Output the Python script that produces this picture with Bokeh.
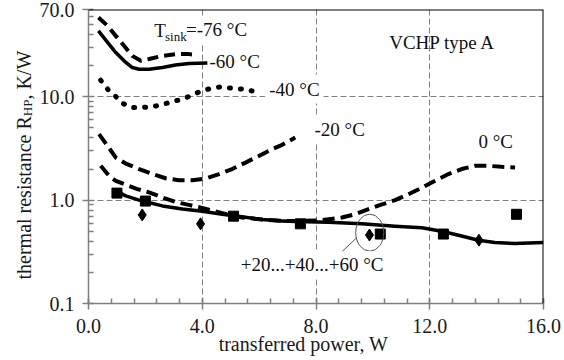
import math
from bokeh.plotting import figure
from bokeh.layouts import row
from bokeh.models import (Range1d, FixedTicker, PrintfTickFormatter, Label, Span)
from bokeh.core.properties import value
from bokeh.embed import file_html
from bokeh.resources import INLINE

# ---------------- data ----------------
x_m76 = [0.35, 0.67, 0.96, 1.25, 1.54, 1.84, 2.13, 2.6, 3.06, 3.53, 3.82]
y_m76 = [58.6, 48.7, 38.9, 31.2, 24.9, 22.3, 23.2, 24.9, 25.9, 25.9, 25.5]

x_m60 = [0.35, 0.67, 0.96, 1.25, 1.54, 1.78, 2.13, 2.6, 3.06, 3.53, 4.18]
y_m60 = [43.5, 33.6, 26.8, 22.3, 19.2, 18.5, 18.5, 19.2, 20.3, 21.0, 21.2]

x_m40 = [0.43, 0.67, 0.94, 1.19, 1.49, 1.87, 2.25, 2.62, 2.95, 3.30, 3.65,
         3.97, 4.32, 4.68, 5.05, 5.40, 5.75]
y_m40 = [14.5, 11.9, 10.2, 8.69, 7.88, 7.88, 8.02, 8.45, 8.99, 9.48, 10.4,
         11.4, 12.1, 12.5, 12.1, 11.9, 11.4]

x_m20 = [0.37, 0.67, 0.96, 1.31, 1.78, 2.25, 2.71, 3.18, 3.65, 4.12, 4.59,
         5.05, 5.52, 5.99, 6.46, 6.81, 7.27]
y_m20 = [4.35, 3.35, 2.58, 2.26, 2.0, 1.79, 1.63, 1.56, 1.56, 1.62, 1.79,
         2.0, 2.31, 2.68, 3.12, 3.43, 4.04]

x_0 = [0.43, 0.72, 0.96, 1.31, 1.72, 2.13, 2.60, 3.06, 3.53, 4.0, 4.47, 4.94,
       5.40, 6.11, 6.8, 7.5, 8.21, 8.91, 9.38, 9.85, 10.32, 10.78, 11.25,
       11.72, 12.19, 12.66, 13.12, 13.59, 14.06, 14.53, 15.0]
y_0 = [2.15, 1.72, 1.54, 1.41, 1.28, 1.19, 1.06, 0.96, 0.90, 0.84, 0.78, 0.72,
       0.68, 0.65, 0.63, 0.63, 0.64, 0.68, 0.73, 0.82, 0.91, 1.0, 1.14,
       1.32, 1.54, 1.79, 2.0, 2.15, 2.15, 2.10, 2.07]

x_pos = [0.96, 1.31, 1.89, 2.6, 3.3, 4.0, 4.7, 5.4, 6.11, 6.81, 7.27, 8.44,
         9.61, 10.78, 11.72, 12.42, 13.12, 13.71, 14.29, 15.0, 16.0]
y_pos = [1.23, 1.10, 0.98, 0.88, 0.82, 0.78, 0.73, 0.69, 0.65, 0.63, 0.62, 0.61,
         0.59, 0.56, 0.54, 0.50, 0.45, 0.41, 0.39, 0.38, 0.39]

x_sq = [1.0, 2.0, 5.1, 7.45, 10.26, 12.48, 15.05]
y_sq = [1.17, 0.98, 0.70, 0.59, 0.47, 0.47, 0.73]

x_di = [1.89, 3.94, 9.88, 13.73]
y_di = [0.72, 0.59, 0.46, 0.41]

x_ticks = [0, 4, 8, 12, 16]
y_ticks = [0.1, 1, 10, 70]

x_title = "transferred power, W"
y_title_parts = ["thermal resistance R", "HP", ", K/W"]

# ---------------- main figure ----------------
FONT = "Liberation Serif"
GRAY = "#7f7f7f"
TOP, BOTTOM = 9, 57

p = figure(width=528, height=360, output_backend="svg", toolbar_location=None,
           y_axis_type="log", x_range=Range1d(0, 16), y_range=Range1d(0.1, 70),
           min_border_left=50, min_border_right=21, min_border_top=TOP,
           min_border_bottom=BOTTOM)
p.outline_line_color = None
p.background_fill_color = "white"
p.border_fill_color = "white"

x_minor = [round(0.8 * i, 2) for i in range(21)]
y_minor = [0.2, 0.3, 0.4, 0.5, 0.6, 0.7, 0.8, 0.9,
           2, 3, 4, 5, 6, 7, 8, 9, 20, 30, 40, 50, 60]
p.xaxis.ticker = FixedTicker(ticks=x_ticks, minor_ticks=x_minor)
p.yaxis.ticker = FixedTicker(ticks=y_ticks, minor_ticks=y_minor)
p.xaxis.formatter = PrintfTickFormatter(format="%.1f")
p.yaxis.formatter = PrintfTickFormatter(format="%.1f")

for ax in (p.xaxis, p.yaxis):
    ax.axis_line_color = GRAY
    ax.axis_line_width = 1.5
    ax.major_tick_line_color = GRAY
    ax.major_tick_line_width = 1.5
    ax.minor_tick_line_color = GRAY
    ax.minor_tick_line_width = 1.5
    ax.major_tick_in = 5
    ax.major_tick_out = 6
    ax.minor_tick_in = 5
    ax.minor_tick_out = 0
    ax.major_label_text_font = FONT
    ax.major_label_text_font_size = "20px"
    ax.major_label_text_color = "#1a1a1a"
p.xaxis.major_label_standoff = 9
p.yaxis.major_label_standoff = 8

# x title (trailing no-break spaces nudge its centre left, as in the original)
p.xaxis.axis_label = x_title + "\u00a0" * 5
p.xaxis.axis_label_text_font = FONT
p.xaxis.axis_label_text_font_size = "20px"
p.xaxis.axis_label_text_font_style = "normal"
p.xaxis.axis_label_text_color = "#1a1a1a"
p.xaxis.axis_label_standoff = -3

p.grid.grid_line_color = GRAY
p.grid.grid_line_dash = "6 3"
p.grid.grid_line_width = 1

# black frame on top and right
p.add_layout(Span(location=70, dimension="width", line_color="black", line_width=2))
p.add_layout(Span(location=16, dimension="height", line_color="black", line_width=2))

# ---------------- curves ----------------
p.line(x_m76, y_m76, line_color="black", line_width=4, line_dash="11 6")
p.line(x_m60, y_m60, line_color="black", line_width=3.5, line_join="round")
p.line(x_m40, y_m40, line_color="black", line_width=5, line_dash="1 10",
       line_cap="round")
p.line(x_m20, y_m20, line_color="black", line_width=4, line_dash="12 6")
p.line(x_0, y_0, line_color="black", line_width=4, line_dash="12 6")
p.line(x_pos, y_pos, line_color="black", line_width=3.5, line_join="round")

p.scatter(x_sq, y_sq, marker="square", size=10, color="black")
p.scatter(x_di, y_di, marker="diamond", size=12, color="black")

# circled group + leader line
ell_x = [9.89]
ell_y = [0.485]
p.ellipse(ell_x, ell_y, width=28, height=37, width_units="screen",
          height_units="screen", fill_color=None, line_color="#555555",
          line_width=1)
lead_x = [8.82, 9.44]
lead_y = [0.30, 0.435]
p.line(lead_x, lead_y, line_color="#555555", line_width=1)

# ---------------- texts in the plot ----------------
def lab(text, sx, sy, size="19px", bg=None, pad=0):
    # sx, sy: wanted left/baseline position relative to the frame's bottom-left
    p.add_layout(Label(x=sx - pad, y=sy + 6 + pad * 0.5,
                       x_units="screen", y_units="screen",
                       text=text, text_font=FONT, text_font_size=size,
                       text_color="#111111", text_align="left",
                       text_baseline="alphabetic",
                       background_fill_color=bg, padding=pad))

lab("=-76 °C", 97.5, 266.3, bg="white", pad=3)
lab("T", 65.7, 266.3, bg="white", pad=2)
lab("sink", 76.5, 261.5, size="13px")
lab("-60 °C", 121, 236.3)
lab("-40 °C", 180.7, 206.5, bg="white", pad=4)
lab("-20 °C", 226, 166.3, bg="white", pad=4)
lab("0 °C", 390, 154.7, bg="white", pad=3)
lab("VCHP type A", 300.7, 254.7)
lab("+20...+40...+60 °C", 152.3, 31.3, bg="white", pad=3)

# ---------------- y title strip (left) ----------------
# its frame has the same top/bottom borders as the main plot; y = 360 - page y
q = figure(width=36, height=360, output_backend="svg", toolbar_location=None,
           x_range=Range1d(0, 36), y_range=Range1d(BOTTOM, 360 - TOP),
           min_border_left=0, min_border_right=0, min_border_top=TOP,
           min_border_bottom=BOTTOM, x_axis_location=None, y_axis_location=None)
q.outline_line_color = None
q.grid.visible = False
q.background_fill_color = "white"
q.border_fill_color = "white"

half_pi = math.pi / 2
title_x = [23, 27, 23]
title_y = [81, 244.3, 260.9]
title_size = ["20px", "13px", "20px"]
for t, tx, ty, ts in zip(y_title_parts, title_x, title_y, title_size):
    q.text(x=[tx], y=[ty], text=[t], angle=half_pi,
           text_font=value(FONT), text_font_size=value(ts),
           text_color="#1a1a1a", text_align="left",
           text_baseline="alphabetic")

layout = row(q, p)
open("out.html", "w").write(file_html(layout, INLINE))
